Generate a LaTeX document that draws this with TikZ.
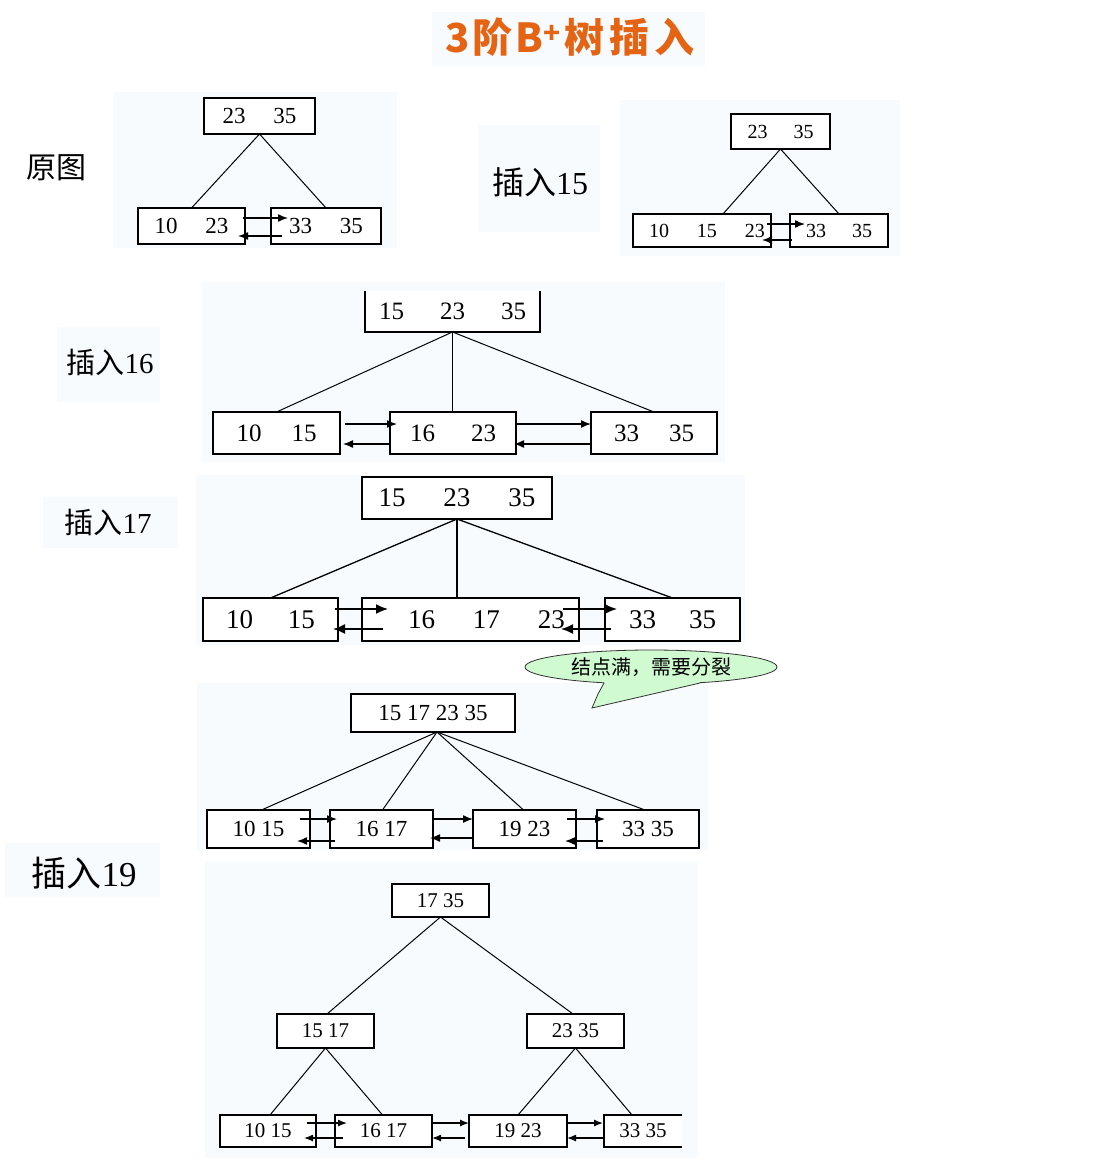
\documentclass[tikz,border=0pt]{standalone}
\usepackage{fontspec}
\setmainfont{Liberation Serif}
\newfontfamily\cjk{Noto Sans CJK SC}
\usetikzlibrary{arrows.meta,calc,shapes.geometric}
\definecolor{panel}{RGB}{248,251,253}
\definecolor{titleor}{RGB}{228,100,20}
\definecolor{bubble}{RGB}{208,250,208}
\tikzset{
 bx/.style={draw=black,line width=1.1pt,inner sep=0pt,outer sep=0pt,fill=white},
 tl/.style={line width=1pt},
 ar/.style={line width=1.4pt,-{Latex[length=10pt,width=8pt]}},
 arbig/.style={line width=1.6pt,-{Latex[length=12pt,width=10pt]}},
 arsm/.style={line width=1.3pt,-{Latex[length=9pt,width=7pt]}},
 lab/.style={inner sep=0pt},
 f1/.style={font=\fontsize{23}{23}\selectfont},
 f2/.style={font=\fontsize{20}{20}\selectfont},
 f3/.style={font=\fontsize{25}{25}\selectfont},
 f4/.style={font=\fontsize{27}{27}\selectfont},
 f5/.style={font=\fontsize{23}{23}\selectfont},
 f6/.style={font=\fontsize{21}{21}\selectfont},
}
\newcommand\bnode[7][]{\node[bx,#1,minimum width=#5pt-#3pt,minimum height=#6pt-#4pt] (#2) at ({(#3+#5)/2},{(#4+#6)/2+1}) {#7};}
\begin{document}
\begin{tikzpicture}[x=1pt,y=-1pt]
\fill[white] (0,0) rectangle (1100,1164);
\useasboundingbox (0,0) rectangle (1100,1164);
% faint panels
\fill[panel] (432,12) rectangle (705,66);
\fill[panel] (113,92) rectangle (397,248);
\fill[panel] (478,125) rectangle (600,232);
\fill[panel] (620,100) rectangle (900,256);
\fill[panel] (57,327) rectangle (160,402);
\fill[panel] (202,282) rectangle (725,462);
\fill[panel] (43,497) rectangle (178,548);
\fill[panel] (196,475) rectangle (745,645);
\fill[panel] (197,683) rectangle (708,850);
\fill[panel] (5,843) rectangle (160,897);
\fill[panel] (205,862) rectangle (698,1158);

% title
\node[font=\cjk\bfseries\fontsize{40}{40}\selectfont, text=titleor] (title) at (570,37) {3\hspace{3pt}阶\hspace{3pt}B\textsuperscript{+}\hspace{4pt}树\hspace{5pt}插\hspace{5pt}入};

% labels
\node[lab,font=\fontsize{30}{30}\selectfont] (l0) at (57,168) {\cjk 原图};
\node[lab,font=\fontsize{32}{32}\selectfont] (l1) at (540,182) {{\cjk 插入}15};
\node[lab,font=\fontsize{29}{29}\selectfont] (l2) at (110,362) {{\cjk 插入}16};
\node[lab,font=\fontsize{29}{29}\selectfont] (l3) at (108,522) {{\cjk 插入}17};
\node[lab,font=\fontsize{35}{35}\selectfont] (l4) at (84,873) {{\cjk 插入}19};

% panel 1
\bnode[f1]{a0}{204}{97}{315}{133}{23\hspace{28pt}35}
\bnode[f1]{a1}{138}{207}{245}{243}{10\hspace{28pt}23}
\bnode[f1]{a2}{271}{207}{381}{243}{33\hspace{28pt}35}
\draw[tl] (a0.south) -- (a1.north);
\draw[tl] (a0.south) -- (a2.north);
\draw[ar] ($(a1.north east)+(-2,10)$) -- ($(a2.north west)+(17,10)$);
\draw[ar] ($(a2.north west)+(11,28)$) -- ($(a1.north east)+(-7,28)$);

% panel 2
\bnode[f2]{b0}{731}{113}{830}{148}{23\hspace{26pt}35}
\bnode[f2]{b1}{633}{213}{771}{246}{\hspace*{10pt}10\hspace{28pt}15\hspace{28pt}23}
\bnode[f2]{b2}{790}{213}{888}{246}{33\hspace{26pt}35}
\draw[tl] (b0.south) -- ($(b1.north)+(21,0)$);
\draw[tl] (b0.south) -- (b2.north);
\draw[ar] ($(b1.north east)+(-4,10)$) -- ($(b2.north west)+(15,10)$);
\draw[ar] ($(b2.north west)+(2,26)$) -- ($(b1.north east)+(-9,26)$);

% panel 3
\bnode[f3,draw=none]{c0}{365}{290}{540}{331}{15\hspace{36pt}23\hspace{36pt}35\hspace{14pt}}
\draw[line width=1.1pt] (c0.north west) -- (c0.south west) -- (c0.south east) -- (c0.north east);
\bnode[f3]{c1}{213}{411}{340}{453}{10\hspace{30pt}15}
\bnode[f3]{c2}{390}{411}{516}{453}{16\hspace{36pt}23}
\bnode[f3]{c3}{591}{411}{717}{453}{33\hspace{30pt}35}
\draw[tl] (c0.south) -- (c1.north);
\draw[tl] (c0.south) -- (c0.south |- c2.north);
\draw[tl] (c0.south) -- (c3.north);
\draw[ar] ($(c1.north east)+(5,12)$) -- ($(c2.north west)+(7,12)$);
\draw[ar] ($(c2.north west)+(0,32)$) -- ($(c1.north east)+(3,32)$);
\draw[ar] ($(c2.north east)+(0,12)$) -- ($(c3.north west)+(0,12)$);
\draw[ar] ($(c3.north west)+(0,32)$) -- ($(c2.north east)+(-2,32)$);

% panel 4
\bnode[f4]{d0}{362}{476}{552}{518}{15\hspace{38pt}23\hspace{38pt}35\hspace{14pt}}
\bnode[f4]{d1}{203}{597}{338}{640}{10\hspace{35pt}15}
\bnode[f4]{d2}{362}{597}{579}{640}{\hspace*{32pt}16\hspace{38pt}17\hspace{38pt}23}
\bnode[f4]{d3}{605}{597}{740}{640}{33\hspace{33pt}35}
\draw[tl,line width=1.3pt] (d0.south) -- (d1.north);
\draw[tl,line width=1.3pt] (d0.south) -- (d0.south |- d2.north);
\draw[tl,line width=1.3pt] (d0.south) -- (d3.north);
\draw[arbig] ($(d1.north east)+(-3,11)$) -- ($(d2.north west)+(26,11)$);
\draw[arbig] ($(d2.north west)+(21,31)$) -- ($(d1.north east)+(-5,31)$);
\draw[arbig] ($(d2.north east)+(-16,11)$) -- ($(d3.north west)+(12,11)$);
\draw[arbig] ($(d3.north west)+(6,31)$) -- ($(d2.north east)+(-18,31)$);

% callout
\node[ellipse, draw=black!80, line width=0.8pt, fill=bubble, minimum width=252pt, minimum height=34pt, inner sep=0pt, font=\cjk\fontsize{20}{20}\selectfont] (call) at (651,667) {结点满，需要分裂};
\fill[bubble] (606,680) -- (604,683) -- (598,694) -- (592,708) -- (700,683) -- (698,680) -- cycle;
\draw[black!80, line width=0.8pt] (604,683) -- (598,694) -- (592,708) -- (700,683);

% panel 5
\bnode[f5]{e0}{351}{693}{515}{731}{15 17 23 35\hspace{14pt}}
\bnode[f5]{e1}{207}{809}{310}{847}{10 15\hspace{16pt}}
\bnode[f5]{e2}{330}{809}{433}{847}{16 17\hspace{22pt}}
\bnode[f5]{e3}{473}{809}{576}{847}{19 23\hspace{28pt}}
\bnode[f5]{e4}{597}{809}{699}{847}{33 35\hspace{26pt}}
\coordinate (e0b) at ($(e0.south)+(4,0)$);
\draw[tl] (e0b) -- ($(e1.north)+(3,0)$);
\draw[tl] (e0b) -- ($(e2.north)+(1,0)$);
\draw[tl] (e0b) -- ($(e3.north)+(-1,0)$);
\draw[tl] (e0b) -- ($(e4.north)+(-3,0)$);
\draw[ar] ($(e1.north east)+(-10,9)$) -- ($(e2.north west)+(7,9)$);
\draw[ar] ($(e2.north west)+(5,31)$) -- ($(e1.north east)+(-13,31)$);
\draw[ar] ($(e2.north east)+(0,9)$) -- ($(e3.north west)+(0,9)$);
\draw[ar] ($(e3.north west)+(0,28)$) -- ($(e2.north east)+(-3,28)$);
\draw[ar] ($(e3.north east)+(-9,9)$) -- ($(e4.north west)+(8,9)$);
\draw[ar] ($(e4.north west)+(6,31)$) -- ($(e3.north east)+(-11,31)$);

% panel 6
\bnode[f6]{g0}{392}{883}{489}{916}{17 35\hspace{14pt}}
\bnode[f6]{g1}{277}{1013}{374}{1047}{15 17\hspace{13pt}}
\bnode[f6]{g2}{527}{1013}{624}{1047}{23 35\hspace{15pt}}
\bnode[f6]{h1}{220}{1114}{316}{1146}{10 15\hspace{14pt}}
\bnode[f6]{h2}{335}{1114}{432}{1146}{16 17\hspace{15pt}}
\bnode[f6]{h3}{469}{1114}{567}{1146}{19 23\hspace{14pt}}
\bnode[f6,draw=none]{h4}{604}{1114}{682}{1146}{33 35}
\draw[line width=1.1pt] (h4.north east) -- (h4.north west) -- (h4.south west) -- (h4.south east);
\draw[tl] (g0.south) -- ($(g1.north)+(1.5,0)$);
\draw[tl] (g0.south) -- ($(g2.north)+(-2.5,0)$);
\draw[tl] (g1.south) -- ($(h1.north)+(2,0)$);
\draw[tl] (g1.south) -- ($(h2.north)+(-1,0)$);
\draw[tl] (g2.south) -- (h3.north);
\draw[tl] (g2.south) -- ($(h4.north)+(-11,0)$);
\draw[arsm] ($(h1.north east)+(-9,8)$) -- ($(h2.north west)+(12,8)$);
\draw[arsm] ($(h2.north west)+(8,23)$) -- ($(h1.north east)+(-12,23)$);
\draw[arsm] ($(h2.north east)+(0,8)$) -- ($(h3.north west)+(0,8)$);
\draw[arsm] ($(h3.north west)+(-4,23)$) -- ($(h2.north east)+(0,23)$);
\draw[arsm] ($(h3.north east)+(0,8)$) -- ($(h4.north west)+(-1,8)$);
\draw[arsm] ($(h4.north west)+(0,23)$) -- ($(h3.north east)+(0,23)$);
\end{tikzpicture}
\end{document}
